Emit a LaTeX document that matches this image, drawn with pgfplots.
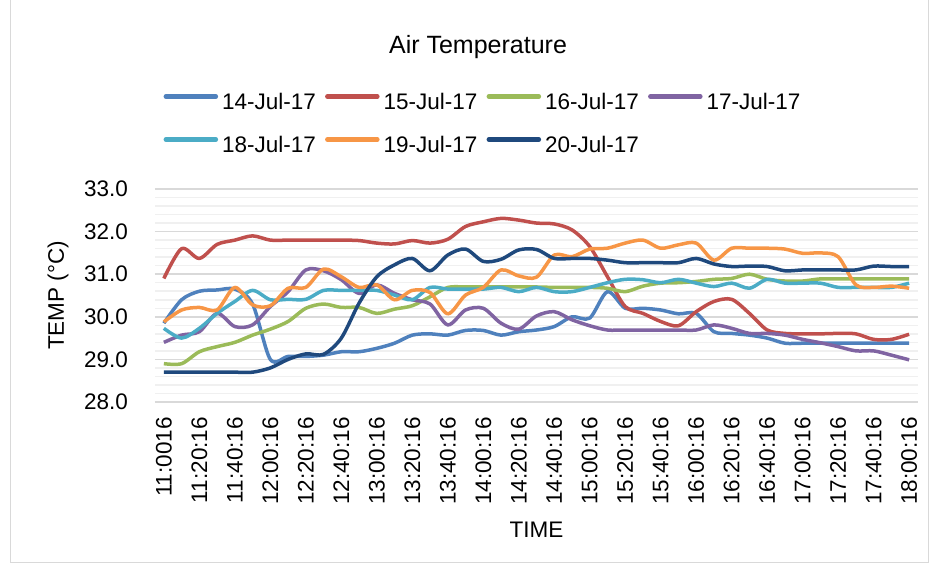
\documentclass[border=0pt]{standalone}
\usepackage{pgfplots}
\pgfplotsset{compat=1.18}
\usepackage{pgfplotstable}
\usepackage{fontspec}
\setmainfont{Liberation Sans}
\definecolor{c1}{HTML}{4F81BD}
\definecolor{c2}{HTML}{C0504D}
\definecolor{c3}{HTML}{9BBB59}
\definecolor{c4}{HTML}{8064A2}
\definecolor{c5}{HTML}{4BACC6}
\definecolor{c6}{HTML}{F79646}
\definecolor{c7}{HTML}{1F497D}
\pgfplotstableread{
i a b c d e f g
0 29.85 30.90 28.90 29.40 29.73 29.88 28.70
1 30.40 31.60 28.90 29.57 29.50 30.16 28.70
2 30.60 31.37 29.18 29.65 29.73 30.22 28.70
3 30.63 31.70 29.30 30.08 30.08 30.16 28.70
4 30.65 31.80 29.40 29.77 30.36 30.69 28.70
5 30.30 31.90 29.57 29.81 30.62 30.28 28.70
6 29.00 31.80 29.71 30.24 30.40 30.26 28.80
7 29.07 31.80 29.89 30.59 30.41 30.67 29.00
8 29.07 31.80 30.20 31.10 30.41 30.69 29.13
9 29.10 31.80 30.30 31.08 30.62 31.12 29.12
10 29.18 31.80 30.22 30.87 30.62 30.94 29.50
11 29.18 31.79 30.22 30.55 30.62 30.69 30.32
12 29.26 31.73 30.08 30.75 30.62 30.75 30.94
13 29.38 31.71 30.18 30.55 30.51 30.40 31.22
14 29.57 31.79 30.26 30.40 30.40 30.62 31.37
15 29.60 31.73 30.47 30.30 30.69 30.57 31.08
16 29.57 31.82 30.69 29.81 30.65 30.07 31.45
17 29.68 32.12 30.70 30.16 30.65 30.51 31.59
18 29.68 32.23 30.70 30.20 30.65 30.69 31.30
19 29.57 32.31 30.70 29.85 30.69 31.10 31.35
20 29.65 32.27 30.70 29.71 30.59 30.96 31.57
21 29.69 32.20 30.70 30.02 30.69 30.93 31.58
22 29.77 32.18 30.69 30.12 30.59 31.45 31.37
23 30.00 32.04 30.69 29.93 30.59 31.41 31.37
24 29.97 31.65 30.69 29.79 30.69 31.59 31.37
25 30.59 30.94 30.67 29.69 30.80 31.61 31.33
26 30.20 30.24 30.59 29.69 30.88 31.73 31.27
27 30.20 30.08 30.72 29.69 30.87 31.80 31.27
28 30.16 29.89 30.79 29.69 30.80 31.61 31.27
29 30.07 29.79 30.80 29.69 30.88 31.69 31.27
30 30.08 30.12 30.83 29.69 30.79 31.73 31.37
31 29.65 30.36 30.88 29.81 30.71 31.33 31.24
32 29.61 30.41 30.90 29.73 30.79 31.61 31.18
33 29.57 30.08 31.00 29.61 30.67 31.61 31.19
34 29.50 29.69 30.88 29.61 30.88 31.61 31.18
35 29.38 29.61 30.84 29.57 30.79 31.59 31.08
36 29.38 29.60 30.84 29.47 30.79 31.49 31.10
37 29.38 29.60 30.89 29.39 30.79 31.50 31.10
38 29.38 29.61 30.89 29.30 30.69 31.41 31.10
39 29.38 29.60 30.89 29.20 30.69 30.75 31.10
40 29.38 29.47 30.89 29.20 30.69 30.69 31.19
41 29.38 29.47 30.89 29.10 30.69 30.72 31.18
42 29.38 29.59 30.89 28.99 30.79 30.67 31.18
}\data
\begin{document}
\begin{tikzpicture}[font=\fontsize{22.5}{27}\selectfont]
\useasboundingbox (0,0) rectangle (935pt,-567pt);
\draw[gray!30, line width=1pt] (10.5pt,0pt) -- (10.5pt,-562pt) -- (928pt,-562pt) -- (928pt,0pt);
\node at (478pt,-47pt) {\fontsize{25}{30}\selectfont Air Temperature};
\begin{axis}[
  at={(155pt,-402pt)}, anchor=south west,
  width=763pt, height=213pt, scale only axis,
  xmin=-0.5, xmax=42.5, ymin=28, ymax=33,
  ytick={28,29,...,33}, minor y tick num=4,
  xtick={0,2,...,42},
  xticklabels={11:0016,11:20:16,11:40:16,12:00:16,12:20:16,12:40:16,13:00:16,13:20:16,13:40:16,14:00:16,14:20:16,14:40:16,15:00:16,15:20:16,15:40:16,16:00:16,16:20:16,16:40:16,17:00:16,17:20:16,17:40:16,18:00:16},
  ymajorgrids, yminorgrids,
  major grid style={draw=gray!30, line width=1.5pt},
  minor grid style={draw=gray!12, line width=1.5pt},
  axis line style={draw=none},
  major tick length=0pt, minor tick length=0pt,
  /pgf/number format/assume math mode=true,
  yticklabel style={/pgf/number format/fixed, /pgf/number format/fixed zerofill, /pgf/number format/precision=1, anchor=east, inner sep=0pt, xshift=-27pt},
  xticklabel style={yshift=-15pt, rotate=90, anchor=east, inner sep=0pt},
  ylabel={TEMP (°C)},
  every axis y label/.style={at={(axis description cs:-0.127,0.5)}, rotate=90, anchor=center},
  xlabel={TIME},
  every axis x label/.style={at={(axis description cs:0.5,-0.601)}, anchor=center},
  legend columns=4,
  legend style={draw=none, fill=none, at={(axis description cs:0.011,1.4474)}, anchor=north west, inner sep=0pt, column sep=4pt, row sep=22pt, nodes={inner sep=0pt, text height=16pt, text depth=5pt, text width=99pt, align=left}},
  legend image code/.code={\draw[#1, line width=4.5pt, line cap=round] (2pt,8pt) -- (52pt,8pt);},
  every axis plot/.append style={line width=3.5pt, smooth, tension=0.5, line join=round},
]
\addplot[c1] table[x=i,y=a]{\data};
\addplot[c2] table[x=i,y=b]{\data};
\addplot[c3] table[x=i,y=c]{\data};
\addplot[c4] table[x=i,y=d]{\data};
\addplot[c5] table[x=i,y=e]{\data};
\addplot[c6] table[x=i,y=f]{\data};
\addplot[c7] table[x=i,y=g]{\data};
\legend{14-Jul-17,15-Jul-17,16-Jul-17,17-Jul-17,18-Jul-17,19-Jul-17,20-Jul-17}
\end{axis}
\end{tikzpicture}
\end{document}
